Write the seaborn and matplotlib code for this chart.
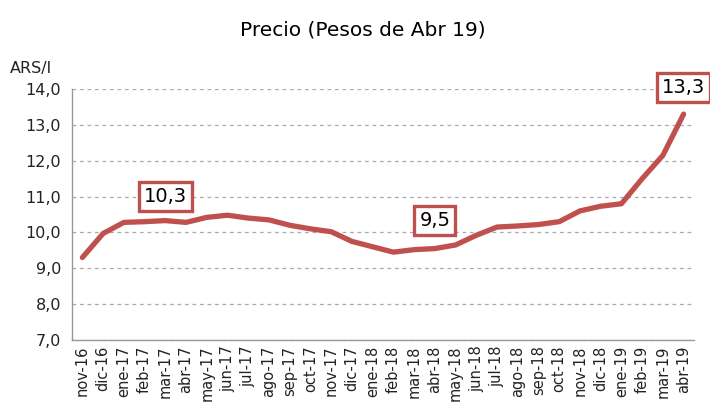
import matplotlib
matplotlib.use("Agg")
import matplotlib.pyplot as plt
import seaborn as sns
import pandas as pd
import numpy as np

months = ["nov-16", "dic-16", "ene-17", "feb-17", "mar-17", "abr-17", "may-17", "jun-17",
          "jul-17", "ago-17", "sep-17", "oct-17", "nov-17", "dic-17", "ene-18", "feb-18",
          "mar-18", "abr-18", "may-18", "jun-18", "jul-18", "ago-18", "sep-18", "oct-18",
          "nov-18", "dic-18", "ene-19", "feb-19", "mar-19", "abr-19"]
precio = [9.30, 9.97, 10.28, 10.30, 10.33, 10.28, 10.42, 10.48, 10.40, 10.35, 10.20, 10.10,
          10.02, 9.75, 9.60, 9.45, 9.52, 9.55, 9.65, 9.92, 10.15, 10.18, 10.22, 10.30,
          10.60, 10.73, 10.80, 11.50, 12.15, 13.30]
label_months = ["mar-17", "abr-18", "abr-19"]
label_texts = ["10,3", "9,5", "13,3"]
yticks = [7, 8, 9, 10, 11, 12, 13, 14]
ytick_labels = ["7,0", "8,0", "9,0", "10,0", "11,0", "12,0", "13,0", "14,0"]

df = pd.DataFrame({"pos": np.arange(len(months)), "precio": precio})

sns.set_style("white")
plt.rcParams['font.family'] = ['DejaVu Sans']

fig = plt.figure(figsize=(7.10, 4.08), dpi=100)
ax = fig.add_axes([72 / 710, 1 - 340 / 408, (694 - 72) / 710, (340 - 89) / 408])

red = "#C0504D"
sns.lineplot(data=df, x="pos", y="precio", ax=ax, color=red, linewidth=3.8,
             solid_capstyle="round", solid_joinstyle="round")

ax.set_xlim(-0.5, len(months) - 0.5)
ax.set_ylim(7, 14)
ax.set_yticks(yticks)
ax.set_yticklabels(ytick_labels, fontsize=11.5, color="#222222")
ax.set_xticks(np.arange(len(months)))
ax.set_xticklabels(months, rotation=90, fontsize=10.5, color="#222222")
ax.set_xticks(np.arange(-0.5, len(months)), minor=True)
ax.tick_params(axis="x", which="major", length=0, pad=4)
ax.tick_params(axis="x", which="minor", length=5, color="#999999", width=1)
ax.tick_params(axis="y", length=5, color="#999999", width=1, pad=3)
ax.set_xlabel("")
ax.set_ylabel("")

ax.yaxis.grid(True, linestyle=(0, (3, 3)), color="#AAAAAA", linewidth=0.9)
ax.set_axisbelow(True)
for s in ["top", "right"]:
    ax.spines[s].set_visible(False)
for s in ["left", "bottom"]:
    ax.spines[s].set_color("#999999")
    ax.spines[s].set_linewidth(1)

label_y = [11.0, 10.34, 14.05]
for m, t, yv in zip(label_months, label_texts, label_y):
    i = months.index(m)
    ax.text(i, yv, t, ha="center", va="center", fontsize=14, color="black",
            bbox=dict(boxstyle="square,pad=0.25", facecolor="white", edgecolor=red, linewidth=2.4),
            clip_on=False, zorder=5)

fig.text(363 / 710, 1 - 30 / 408, "Precio (Pesos de Abr 19)", ha="center", va="center",
         fontsize=14.5, color="black")
fig.text(31 / 710, 1 - 68 / 408, "ARS/l", ha="center", va="center", fontsize=11.5,
         color="#222222")

fig.savefig("out.png", dpi=100)
